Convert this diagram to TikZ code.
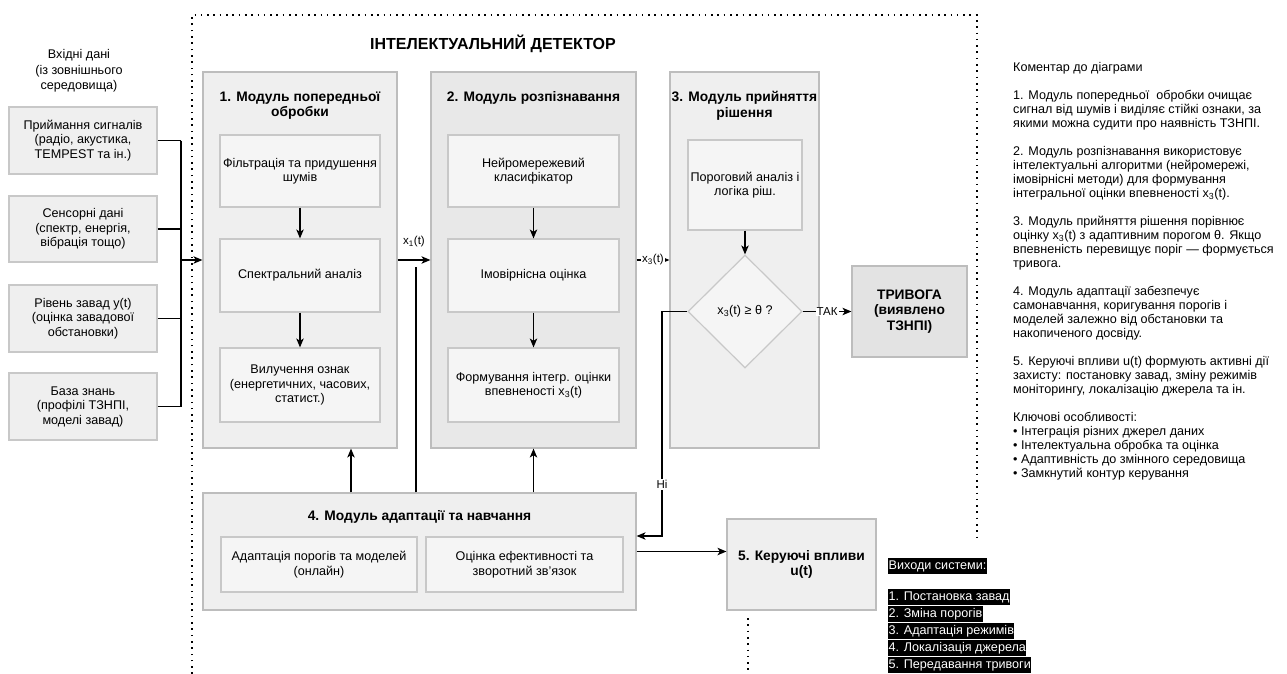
\documentclass[tikz,border=0pt]{standalone}
\usepackage{fontspec}
\setmainfont{Liberation Sans}
\usetikzlibrary{arrows.meta,shapes.geometric}
\definecolor{bordc}{HTML}{BDBDBD}
\definecolor{innbord}{HTML}{C8C8C8}
\definecolor{contfill}{HTML}{EFEFEF}
\definecolor{contfilldk}{HTML}{E8E8E8}
\definecolor{innfill}{HTML}{F5F5F5}
\definecolor{alarmfill}{HTML}{E3E3E3}
\begin{document}
\begin{tikzpicture}[x=1pt,y=-1pt,
  txt/.style={font=\fontsize{12.6}{14.5}\selectfont, align=center},
  container/.style={draw=bordc, fill=contfill, line width=1.2pt, inner sep=0pt},
  innerbox/.style={draw=innbord, fill=innfill, line width=1.2pt, inner sep=2pt, txt},
  inbox/.style={draw=innbord, fill=contfill, line width=1.2pt, inner sep=2pt, txt},
  ttl/.style={font=\bfseries\fontsize{13.8}{15.5}\selectfont, align=center},
  conn/.style={line width=1.1pt},
  arr/.style={conn, -{Stealth[length=9pt,width=7.5pt,inset=2.5pt]}},
  lbl/.style={font=\fontsize{11.5}{13}\selectfont, fill=white, inner sep=1pt},
  dots/.style={line width=1.6pt, dash pattern=on 1.6pt off 4.7pt},
  outl/.style={fill=black, text=white, anchor=west, inner xsep=0.5pt, inner ysep=1.5pt,
    text height=9.5pt, text depth=3pt, font=\fontsize{12.6}{14}\selectfont}
]
\useasboundingbox (0,0) rectangle (1287,674);

% dotted frame
\draw[dots] (192,674) -- (192,15) -- (977,15) -- (977,538);
\draw[dots] (748,618) -- (748,674);

\node[font=\bfseries\fontsize{16}{18}\selectfont] (title) at (493,44) {ІНТЕЛЕКТУАЛЬНИЙ ДЕТЕКТОР};

% inputs
\node[txt, font=\fontsize{12.6}{15.5}\selectfont] (inttl) at (79,71) {Вхідні дані\\(із зовнішнього\\середовища)};
\node[inbox, minimum width=148pt, minimum height=67pt] (in1) at (83,140.5) {Приймання сигналів\\(радіо, акустика,\\TEMPEST та ін.)};
\node[inbox, minimum width=148pt, minimum height=66pt] (in2) at (83,229) {Сенсорні дані\\(спектр, енергія,\\вібрація тощо)};
\node[inbox, minimum width=148pt, minimum height=67pt] (in3) at (83,318.5) {Рівень завад y(t)\\(оцінка завадової\\обстановки)};
\node[inbox, minimum width=148pt, minimum height=67pt] (in4) at (83,406.5) {База знань\\(профілі ТЗНПІ,\\моделі завад)};
\coordinate (bus) at (181,260);

% modules
\node[container, minimum width=194pt, minimum height=376pt] (m1) at (300,260) {};
\node[container, fill=contfilldk, minimum width=205pt, minimum height=376pt] (m2) at (533.5,260) {};
\node[container, minimum width=149pt, minimum height=376pt] (m3) at (744.5,260) {};

\node[ttl, anchor=north] (m1t) at (300,88) {1. Модуль попередньої\\обробки};
\node[ttl, anchor=north] (m2t) at (533.5,88) {2. Модуль розпізнавання};
\node[ttl, anchor=north] (m3t) at (744.5,88) {3. Модуль прийняття\\рішення};

\node[innerbox, minimum width=160pt, minimum height=72pt] (m1a) at (300,171) {Фільтрація та придушення\\шумів};
\node[innerbox, minimum width=160pt, minimum height=73pt] (m1b) at (300,275.5) {Спектральний аналіз};
\node[innerbox, minimum width=160pt, minimum height=74pt] (m1c) at (300,385) {Вилучення ознак\\(енергетичних, часових,\\статист.)};

\node[innerbox, minimum width=171pt, minimum height=72pt] (m2a) at (533.5,171) {Нейромережевий\\класифікатор};
\node[innerbox, minimum width=171pt, minimum height=73pt] (m2b) at (533.5,275.5) {Імовірнісна оцінка};
\node[innerbox, minimum width=171pt, minimum height=74pt] (m2c) at (533.5,385) {Формування інтегр. оцінки\\впевненості x\textsubscript{3}(t)};

\node[innerbox, minimum width=114pt, minimum height=90pt] (m3a) at (745,185) {Пороговий аналіз і\\логіка ріш.};
\node[draw=innbord, fill=innfill, line width=1.2pt, diamond, aspect=1, inner sep=0pt,
  minimum width=114pt, minimum height=113pt, txt] (dec) at (745,311.5) {x\textsubscript{3}(t) ≥ θ ?};

\node[draw=bordc, fill=alarmfill, line width=1.2pt, minimum width=115pt, minimum height=91pt, ttl] (alarm) at (909.5,311.5) {ТРИВОГА\\(виявлено\\ТЗНПІ)};

\node[container, minimum width=433pt, minimum height=117pt] (m4) at (419.5,551.5) {};
\node[ttl] (m4t) at (419.5,517) {4. Модуль адаптації та навчання};
\node[innerbox, minimum width=196pt, minimum height=55pt] (m4a) at (319,564.5) {Адаптація порогів та моделей\\(онлайн)};
\node[innerbox, minimum width=197pt, minimum height=55pt] (m4b) at (524.5,564.5) {Оцінка ефективності та\\зворотний зв'язок};

\node[draw=bordc, fill=contfill, line width=1.2pt, minimum width=149pt, minimum height=91pt, ttl] (m5) at (801.5,564.5) {5. Керуючі впливи\\u(t)};

% input connectors
\foreach \n in {in1,in2,in3,in4} \draw[conn] (\n.east) -- (\n.east -| bus);
\draw[conn] (bus |- in1.east) -- (bus |- in4.east);
\draw[arr] (bus) -- (m1.west);

% internal arrows
\draw[arr] (m1a) -- (m1b);
\draw[arr] (m1b) -- (m1c);
\draw[arr] (m2a) -- (m2b);
\draw[arr] (m2b) -- (m2c);
\draw[arr] (m3a) -- (dec);

% x1, x3
\draw[arr] (m1.east) -- (m2.west);
\node[font=\fontsize{11.5}{13}\selectfont] (x1l) at (414,242) {x\textsubscript{1}(t)};
\draw[arr] (m2.east) -- node[lbl] (x3l) {x\textsubscript{3}(t)} (m3.west);

% decision
\draw[arr] (dec.east) -- node[lbl] (yesl) {ТАК} (alarm.west);
\coordinate (nocorner) at (662,311.5);
\coordinate (nodown) at (662,536);
\draw[arr] (dec.west) -- (nocorner) -- node[lbl, pos=0.77] (nol) {Ні} (nodown) -- (nodown -| m4.east);

% feedback from module 4
\coordinate (fb1) at (351,0);
\coordinate (fb2) at (416,267);
\draw[arr] (m4.north -| fb1) -- (m1.south -| fb1);
\draw[arr] (m4.north -| m2a) -- (m2.south);
\draw[conn] (m4.north -| fb2) -- (fb2);

% to module 5
\draw[arr] (m4.east) -- (m4.east -| m5.west);

% outputs
\node[outl] (o0) at (888,566) {Виходи системи:};
\node[outl] (o1) at (888,597) {1. Постановка завад};
\node[outl] (o2) at (888,614) {2. Зміна порогів};
\node[outl] (o3) at (888,631) {3. Адаптація режимів};
\node[outl] (o4) at (888,648) {4. Локалізація джерела};
\node[outl] (o5) at (888,665) {5. Передавання тривоги};

% comments
\node[anchor=north west, align=left, inner sep=0pt, font=\fontsize{12.6}{14}\selectfont] (cm) at (1013,62) {Коментар до діаграми\\[14pt]
1. Модуль попередньої\ \ обробки очищає\\
сигнал від шумів і виділяє стійкі ознаки, за\\
якими можна судити про наявність ТЗНПІ.\\[14pt]
2. Модуль розпізнавання використовує\\
інтелектуальні алгоритми (нейромережі,\\
імовірнісні методи) для формування\\
інтегральної оцінки впевненості x\textsubscript{3}(t).\\[14pt]
3. Модуль прийняття рішення порівнює\\
оцінку x\textsubscript{3}(t) з адаптивним порогом θ. Якщо\\
впевненість перевищує поріг — формується\\
тривога.\\[14pt]
4. Модуль адаптації забезпечує\\
самонавчання, коригування порогів і\\
моделей залежно від обстановки та\\
накопиченого досвіду.\\[14pt]
5. Керуючі впливи u(t) формують активні дії\\
захисту: постановку завад, зміну режимів\\
моніторингу, локалізацію джерела та ін.\\[14pt]
Ключові особливості:\\
• Інтеграція різних джерел даних\\
• Інтелектуальна обробка та оцінка\\
• Адаптивність до змінного середовища\\
• Замкнутий контур керування};
\end{tikzpicture}
\end{document}
